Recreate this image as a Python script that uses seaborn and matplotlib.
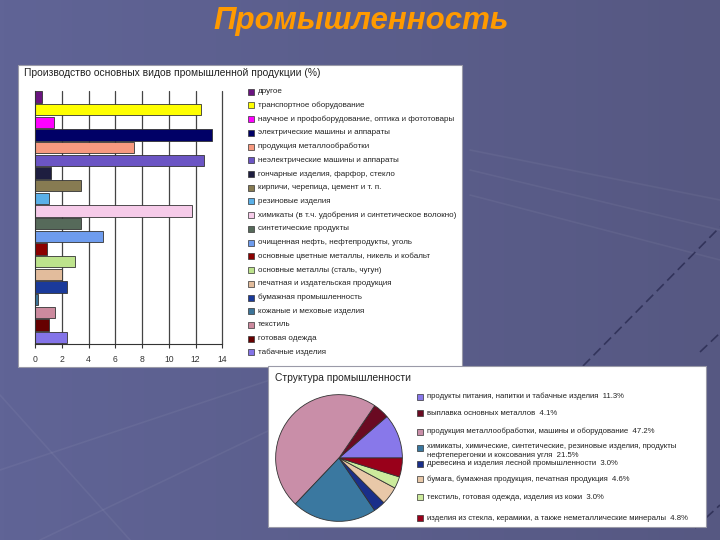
import numpy as np
import pandas as pd
import matplotlib
matplotlib.use("Agg")
import matplotlib.pyplot as plt
import seaborn as sns
from matplotlib.patches import Rectangle

# ---------------- data ----------------
categories = [
    "другое",
    "транспортное оборудование",
    "научное и профоборудование, оптика и фототовары",
    "электрические машины и аппараты",
    "продукция металлообработки",
    "неэлектрические машины и аппараты",
    "гончарные изделия, фарфор, стекло",
    "кирпичи, черепица, цемент и т. п.",
    "резиновые изделия",
    "химикаты (в т.ч. удобрения и синтетическое волокно)",
    "синтетические продукты",
    "очищенная нефть, нефтепродукты, уголь",
    "основные цветные металлы, никель и кобальт",
    "основные металлы (сталь, чугун)",
    "печатная и издательская продукция",
    "бумажная промышленность",
    "кожаные и меховые изделия",
    "текстиль",
    "готовая одежда",
    "табачные изделия",
]
values = [0.5, 12.4, 1.4, 13.2, 7.4, 12.6, 1.2, 3.4, 1.0, 11.7,
          3.4, 5.1, 0.9, 3.0, 2.0, 2.4, 0.2, 1.5, 1.0, 2.4]
bar_colors = ["#6a1480", "#ffff00", "#ff00ff", "#000066", "#f79a80",
              "#6b55c4", "#1e1e40", "#877b52", "#5ab0e8", "#f6cbe9",
              "#566a5a", "#6e9cee", "#8b0000", "#bde38c", "#e2bc9c",
              "#1a3a9a", "#3c7499", "#cc8a9e", "#660000", "#8474e8"]
xticks = [0, 2, 4, 6, 8, 10, 12, 14]

pie_labels = [
    "продукты питания, напитки и табачные изделия",
    "выплавка основных металлов",
    "продукция металлообработки, машины и оборудование",
    "химикаты, химические, синтетические, резиновые изделия, продукты\nнефтеперегонки и коксования угля",
    "древесина и изделия лесной промышленности",
    "бумага, бумажная продукция, печатная продукция",
    "текстиль, готовая одежда, изделия из кожи",
    "изделия из стекла, керамики, а также неметаллические минералы",
]
pie_values = [11.3, 4.1, 47.2, 21.5, 3.0, 4.6, 3.0, 4.8]
pie_colors = ["#8878ea", "#6a0a22", "#c98ea8", "#3a78a0", "#1a2f8a",
              "#e8c8a8", "#cceb9c", "#99001a"]

main_title = "Промышленность"
bar_title = "Производство основных видов промышленной продукции (%)"
pie_title = "Структура промышленности"

# ---------------- figure ----------------
sns.set_theme(style="white")
plt.rcParams["font.family"] = ["Liberation Sans", "DejaVu Sans"]

W, H = 720, 540
fig = plt.figure(figsize=(7.2, 5.4), dpi=100)

def fx(x):
    return x / W

def fy(y):
    return 1 - y / H

# background
bg = fig.add_axes([0, 0, 1, 1])
bg.set_axis_off()
left = np.array([96, 100, 150]) / 255
right = np.array([86, 88, 130]) / 255
t = np.linspace(0, 1, 200)[None, :, None]
grad = left * (1 - t) + right * t
grad = np.repeat(grad, 2, axis=0)
bg.imshow(grad, extent=[0, W, H, 0], aspect="auto", zorder=0)
bg.set_xlim(0, W)
bg.set_ylim(H, 0)

# faint decorative lines
for (x0, y0, x1, y1) in [(0, 470, 270, 380), (40, 540, 270, 430), (0, 395, 130, 540),
                         (470, 150, 720, 200), (470, 170, 720, 230), (470, 195, 720, 260)]:
    bg.plot([x0, x1], [y0, y1], color="white", alpha=0.05, lw=1.2, zorder=1)
for (x0, y0, x1, y1) in [(583, 366, 720, 227), (700, 352, 720, 333), (695, 528, 720, 505)]:
    bg.plot([x0, x1], [y0, y1], color="#15163a", alpha=0.55, lw=1.2, ls=(0, (6, 3)), zorder=1)

bg.text(361, 21, main_title, fontsize=22.5, fontweight="bold", style="italic",
        color="#ff9a00", ha="center", va="center", zorder=5)

# panels
bg.add_patch(Rectangle((18, 65), 444, 302, facecolor="white", edgecolor="#9a9aa8", lw=0.8, zorder=2))
bg.add_patch(Rectangle((268, 366), 438, 161, facecolor="white", edgecolor="#9a9aa8", lw=0.8, zorder=2))

bg.text(24, 73, bar_title, fontsize=7.4, color="#222222", ha="left", va="center", zorder=5)
bg.text(275, 378, pie_title, fontsize=7.4, color="#222222", ha="left", va="center", zorder=5)

# bar legend
for i, (lab, c) in enumerate(zip(categories, bar_colors)):
    y = 91.7 + i * 13.72
    bg.add_patch(Rectangle((247.5, y - 3), 6, 6, facecolor=c, edgecolor="#333333", lw=0.5, zorder=5))
    bg.text(258, y, lab, fontsize=5.8, color="#222222", ha="left", va="center", zorder=5)

# pie legend
pie_rows = [396.7, 413.3, 431.7, 447.5, 463.7, 479.3, 497.3, 518.0]
for lab, v, c, y in zip(pie_labels, pie_values, pie_colors, pie_rows):
    bg.add_patch(Rectangle((416.5, y - 3), 6, 6, facecolor=c, edgecolor="#333333", lw=0.5, zorder=5))
    txt = f"{lab}  {v:.1f}%"
    if "\n" in lab:
        bg.text(427, y - 4, txt, fontsize=5.6, color="#222222", ha="left",
                va="top", linespacing=1.25, zorder=5)
    else:
        bg.text(427, y, txt, fontsize=5.6, color="#222222", ha="left", va="center", zorder=5)

# bar chart
df = pd.DataFrame({"category": categories, "value": values})
ax = fig.add_axes([fx(35.3), fy(344), fx(187), (344 - 90.7) / H])
ax.set_facecolor("none")
ax.set_zorder(3)
sns.barplot(data=df, x="value", y="category", hue="category", order=categories,
            palette=dict(zip(categories, bar_colors)), dodge=False, legend=False,
            width=0.9, edgecolor="#333333", linewidth=0.6, saturation=1, ax=ax)
ax.set_xlim(0, 14)
ax.set_ylim(len(categories) - 0.5, -0.5)
ax.set_xticks(xticks)
ax.set_xticklabels([str(v) for v in xticks], fontsize=6.2, color="#333333")
ax.set_yticks([])
ax.set_xlabel("")
ax.set_ylabel("")
for xv in xticks[1:]:
    ax.axvline(xv, color="#444444", lw=0.9, zorder=0, clip_on=False)
for s in ["top", "right"]:
    ax.spines[s].set_visible(False)
for s in ["left", "bottom"]:
    ax.spines[s].set_color("#333333")
    ax.spines[s].set_linewidth(0.8)
ax.tick_params(axis="x", length=3, width=0.8, color="#333333", pad=5, direction="out", bottom=True)

# pie chart
pa = fig.add_axes([fx(275), fy(522), fx(128), 128 / H])
pa.set_zorder(3)
wedges, _ = pa.pie(pie_values, colors=pie_colors, startangle=0, counterclock=True,
                   wedgeprops=dict(edgecolor="#333333", linewidth=0.6))
pa.set_xlim(-1.01, 1.01)
pa.set_ylim(-1.01, 1.01)
pa.set_aspect("equal")

fig.savefig("out.png", dpi=100)
